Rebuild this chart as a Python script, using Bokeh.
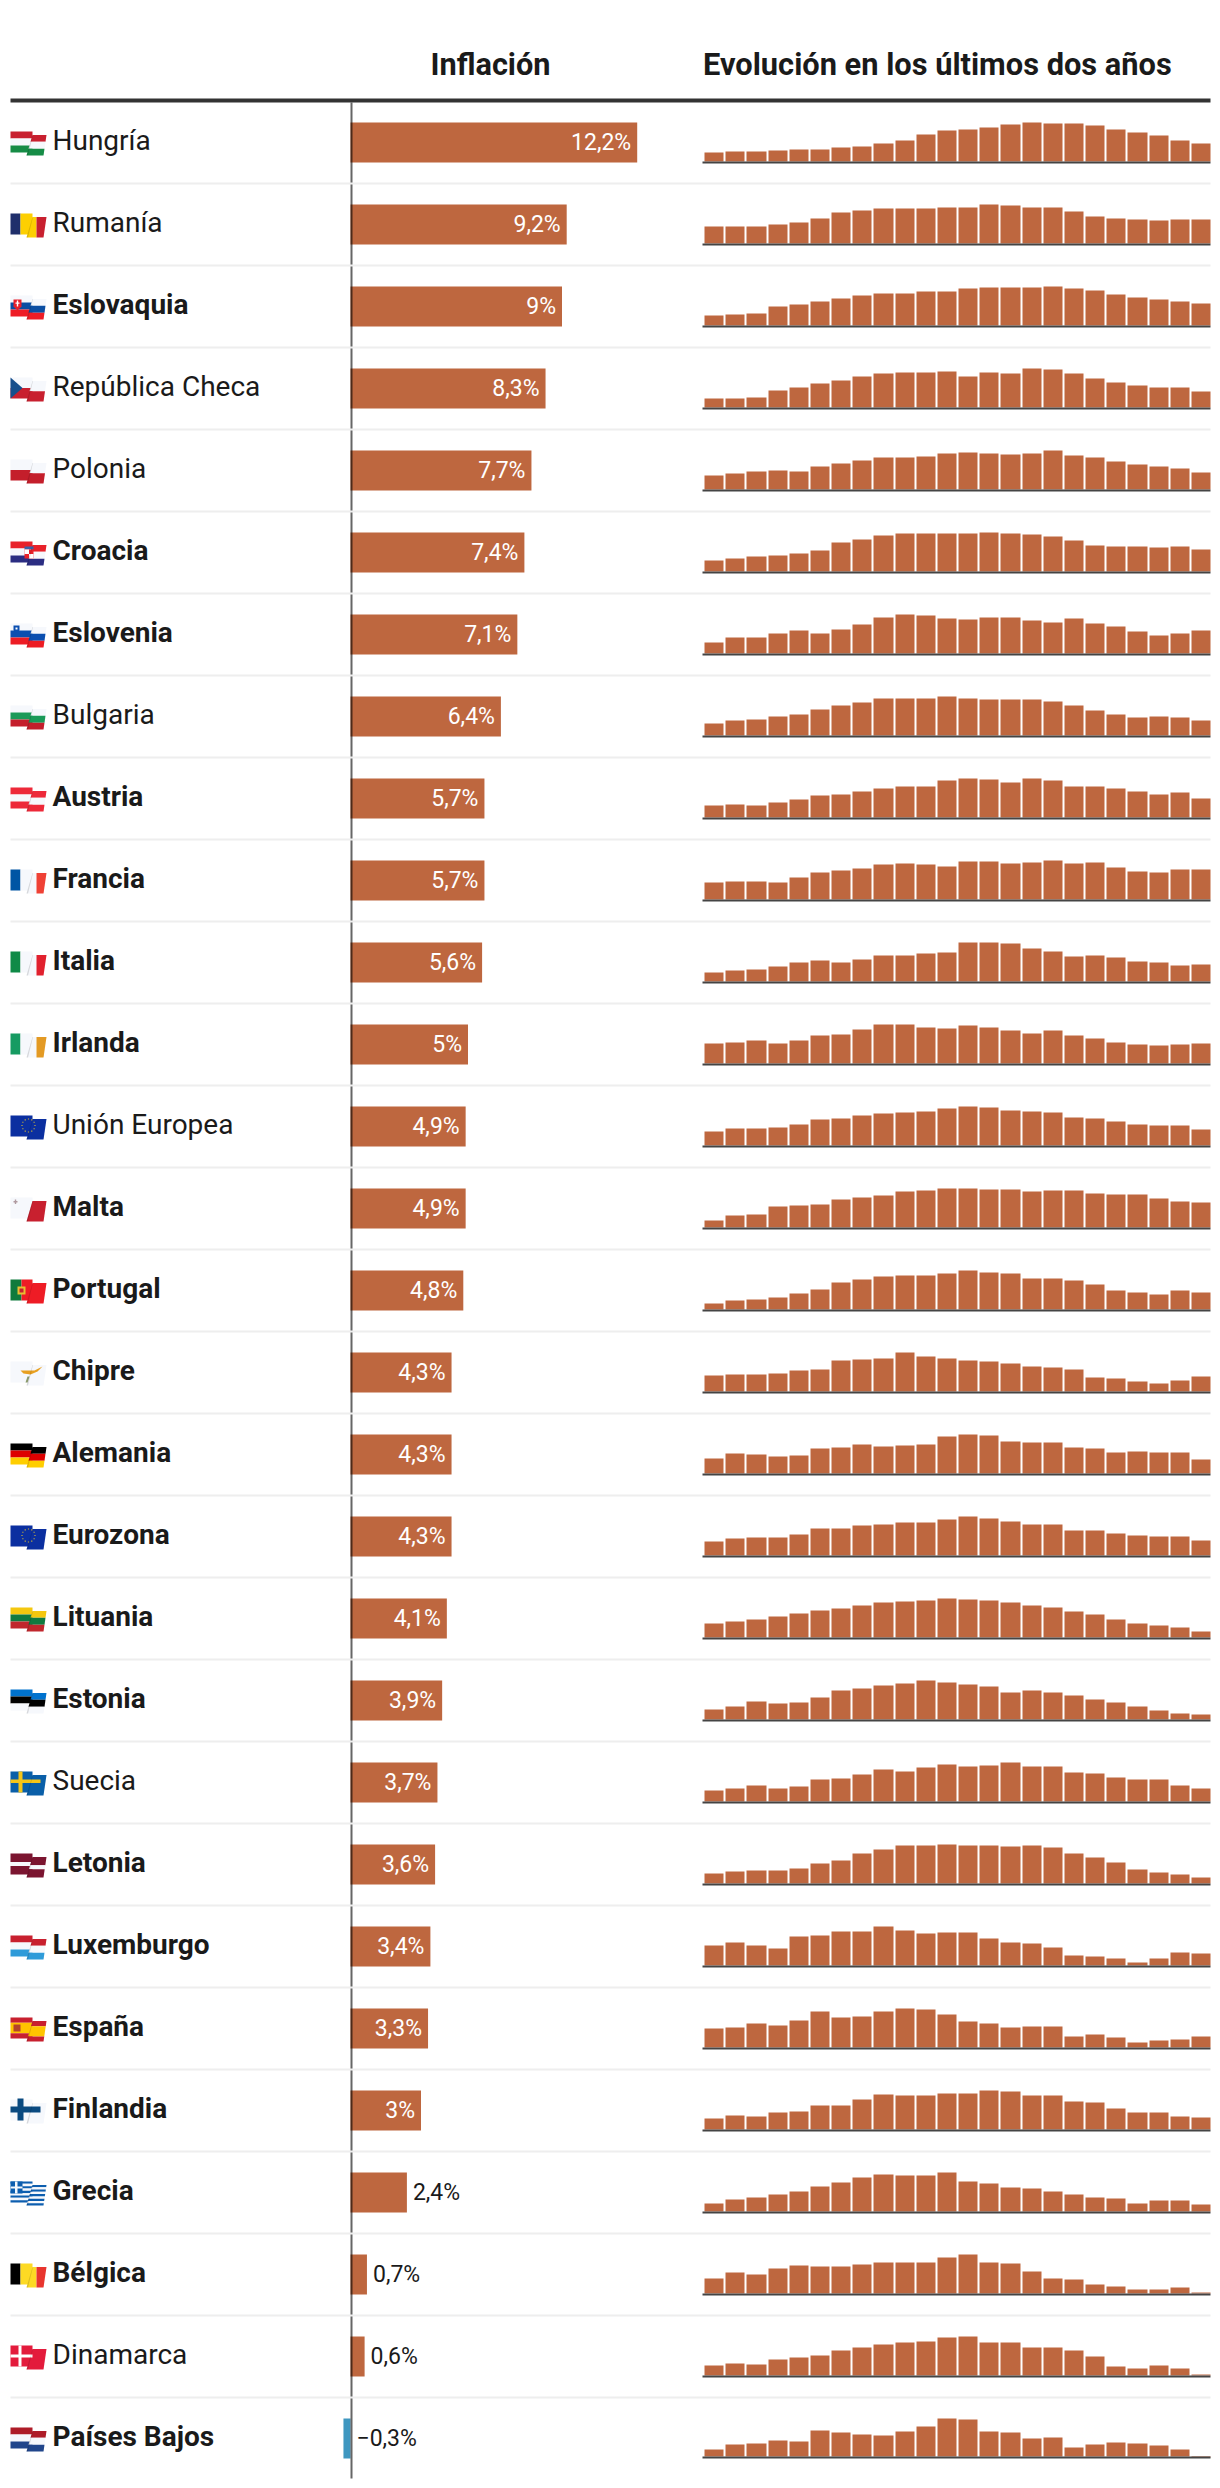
from bokeh.plotting import figure
from bokeh.models import Range1d, ColumnDataSource
from bokeh.embed import file_html
from bokeh.resources import INLINE
from bokeh.core.properties import value
import math

countries = ["Hungría","Rumanía","Eslovaquia","República Checa","Polonia","Croacia","Eslovenia","Bulgaria",
             "Austria","Francia","Italia","Irlanda","Unión Europea","Malta","Portugal","Chipre","Alemania",
             "Eurozona","Lituania","Estonia","Suecia","Letonia","Luxemburgo","España","Finlandia","Grecia",
             "Bélgica","Dinamarca","Países Bajos"]
inflation = [12.2,9.2,9,8.3,7.7,7.4,7.1,6.4,5.7,5.7,5.6,5,4.9,4.9,4.8,4.3,4.3,4.3,4.1,3.9,3.7,3.6,3.4,3.3,3,2.4,0.7,0.6,-0.3]
labels = ["12,2%","9,2%","9%","8,3%","7,7%","7,4%","7,1%","6,4%","5,7%","5,7%","5,6%","5%","4,9%","4,9%","4,8%",
          "4,3%","4,3%","4,3%","4,1%","3,9%","3,7%","3,6%","3,4%","3,3%","3%","2,4%","0,7%","0,6%","−0,3%"]
regular = {"Hungría","Rumanía","República Checa","Polonia","Bulgaria","Unión Europea","Suecia","Dinamarca"}

# two-year evolution, read in relative levels (each row scaled to its own peak)
hungria   = [9,10,10,11,12,12,14,15,18,21,27,31,32,34,37,39,38,38,36,32,29,26,21,18]
rumania   = [17,17,17,19,21,25,31,33,35,35,35,36,36,39,38,36,36,32,27,25,24,23,24,24]
eslovaquia= [10,11,12,19,21,24,27,30,32,32,34,34,37,38,38,38,39,37,35,31,28,26,24,22]
chequia   = [9,9,10,17,20,24,27,31,34,35,35,36,31,35,34,39,38,34,29,25,22,20,20,16]
polonia   = [14,16,18,19,18,23,26,29,32,32,33,36,37,36,35,36,39,34,32,28,25,23,21,17]
croacia   = [11,13,15,16,18,21,29,32,36,38,38,38,38,39,38,37,35,31,26,25,25,24,25,22]
eslovenia = [11,16,16,20,23,20,24,29,36,39,38,35,34,36,36,33,31,35,30,27,22,18,20,23]
bulgaria  = [12,15,16,19,21,26,30,33,37,37,37,39,37,36,36,36,34,30,25,21,18,19,18,15]
austria   = [12,13,12,15,18,22,23,26,29,31,31,37,39,38,35,39,37,31,31,29,26,23,25,19]
francia   = [17,18,18,17,22,27,29,31,35,36,35,33,38,38,36,37,39,36,37,32,28,27,30,30]
italia    = [9,11,12,15,19,21,19,22,26,26,28,29,39,39,38,33,30,25,26,24,20,19,16,17]
irlanda   = [20,21,23,20,23,28,29,34,39,39,36,35,38,36,33,30,33,28,25,21,19,18,19,20]
ue        = [14,17,17,18,21,26,27,30,32,33,34,37,39,38,35,34,33,28,27,24,21,20,20,16]
malta     = [7,12,13,21,22,23,28,30,32,36,37,39,39,38,38,36,37,37,34,33,33,29,26,25]
portugal  = [6,9,10,12,16,20,27,30,33,34,34,36,39,37,36,31,31,29,25,19,17,15,19,17]
chipre    = [16,17,17,18,21,22,31,32,33,39,35,33,31,30,28,25,24,22,14,13,10,8,11,15]
alemania  = [15,20,19,17,18,25,26,29,27,28,29,37,39,38,32,31,31,26,25,21,22,21,21,14]
eurozona  = [14,17,18,18,21,27,27,30,31,33,33,36,39,37,34,31,31,25,25,22,20,19,19,15]
lituania  = [14,16,18,21,24,27,29,32,35,36,37,39,38,37,35,32,30,26,23,18,14,12,10,6]
estonia   = [10,13,18,16,17,22,29,31,34,36,39,37,35,33,27,29,27,24,20,17,13,9,6,5]
suecia    = [11,13,16,13,15,22,23,27,32,30,34,37,35,36,39,35,35,29,28,24,22,22,16,13]
letonia   = [10,12,13,13,15,20,23,30,34,38,38,39,38,38,37,38,36,30,26,21,14,11,9,6]
luxemburgo= [20,23,20,17,29,30,34,34,39,35,32,33,33,27,23,22,18,10,9,7,3,7,13,12]
espana    = [19,20,24,22,27,36,30,31,36,39,38,33,26,24,20,21,21,11,13,10,5,7,8,11]
finlandia = [11,14,13,17,18,24,24,30,35,34,34,36,36,39,38,34,34,28,27,21,17,17,13,12]
grecia    = [8,12,14,17,20,25,29,34,37,36,36,39,30,28,24,23,20,17,14,13,8,11,11,7]
belgica   = [15,21,19,25,28,27,27,29,31,31,31,36,39,31,30,22,15,14,9,7,4,4,6,1]
dinamarca = [10,12,11,16,18,20,25,28,31,33,34,38,39,33,33,28,28,25,19,9,7,10,7,1]
paises_bajos = [7,12,13,16,15,26,24,22,21,25,30,38,37,25,24,18,19,9,12,14,13,11,7,-1]
evolution = [hungria,rumania,eslovaquia,chequia,polonia,croacia,eslovenia,bulgaria,austria,francia,italia,irlanda,
             ue,malta,portugal,chipre,alemania,eurozona,lituania,estonia,suecia,letonia,luxemburgo,espana,finlandia,
             grecia,belgica,dinamarca,paises_bajos]

BAR = "#BE673F"; NEG = "#3F97C0"; INK = "#1a1a1a"; WHITE = "#f6f8fc"
FONT = value("Roboto")
STEP = 82
centre = lambda i: 142 + STEP * i

# coordinates below are page pixels; the frame starts at the page's corner
W, H = 1214, 2480
p = figure(width=W, height=H, x_range=Range1d(0, W), y_range=Range1d(H, 0),
           toolbar_location=None, output_backend="svg", min_border=0,
           outline_line_color=None, background_fill_color="white", border_fill_color="white")
p.xaxis.visible = False
p.yaxis.visible = False
p.grid.visible = False

# Scale for the inflation bars: 0 sits at x=350, 23.5 px per point
ZERO, PX = 350, 23.5
p.extra_x_ranges["infl"] = Range1d((0 - ZERO) / PX, (W - ZERO) / PX)

# Header
p.text(x=[490], y=[63.5], text=["Inflación"], text_font=FONT, text_font_style="bold", text_font_size="30.7px",
       text_align="center", text_baseline="middle", text_color=INK)
p.text(x=[702.5], y=[63.5], text=["Evolución en los últimos dos años"], text_font=FONT, text_font_style="bold",
       text_font_size="30.8px", text_align="left", text_baseline="middle", text_color=INK)

# Inflation bars
src = ColumnDataSource(dict(
    left=[min(v, 0) for v in inflation], right=[max(v, 0) for v in inflation],
    top=[centre(i) - 20 for i in range(len(inflation))],
    bottom=[centre(i) + 20 for i in range(len(inflation))],
    color=[BAR if v >= 0 else NEG for v in inflation]))
p.quad(left="left", right="right", top="top", bottom="bottom", fill_color="color", line_color=None,
       x_range_name="infl", source=src)

# Evolution bars, each row on its own scale; zero stays 1 px higher if the row goes below zero
BAND = (1210 - 702) / 24
for i, levels in enumerate(evolution):
    top_y = centre(i) - 20
    zero = top_y + max(levels)
    name = f"r{i}"
    p.extra_y_ranges[name] = Range1d(zero - H, zero)
    lefts = [round(704.1 + BAND * k) for k in range(len(levels))]
    rights = [round(704.1 + 19.2 + BAND * k) for k in range(len(levels))]
    p.quad(left=lefts, right=rights, bottom=[0] * len(levels), top=levels, fill_color=BAR, line_color=None,
           y_range_name=name)
    p.quad(left=[702], right=[1210], top=[zero], bottom=[zero + 2], fill_color="#444444", line_color=None)

# Zero axis, then separators over it
p.segment(x0=[351], x1=[351], y0=[102], y1=[2478], line_color="black", line_alpha=0.6, line_width=2)
n = len(countries)
p.quad(left=[10] * (n - 1), right=[1210] * (n - 1), top=[centre(i) + 40 for i in range(n - 1)],
       bottom=[centre(i) + 42 for i in range(n - 1)], fill_color="#eeeeee", line_color=None)
p.quad(left=[10], right=[1210], top=[98], bottom=[102], fill_color="#333333", line_color=None)

# Country names
for bold in (False, True):
    idx = [i for i, c in enumerate(countries) if (c not in regular) == bold]
    p.text(x=[52] * len(idx), y=[centre(i) - 1.8 for i in idx], text=[countries[i] for i in idx],
           text_font=FONT, text_font_style="bold" if bold else "normal", text_font_size="28px",
           text_baseline="middle", text_align="left", text_color=INK)

# Value labels
inside = [i for i, v in enumerate(inflation) if v >= 3]
outside = [i for i, v in enumerate(inflation) if 0 <= v < 3]
neg = [i for i, v in enumerate(inflation) if v < 0]
common = dict(text_baseline="middle", text_font=FONT, text_font_size="23px", x_range_name="infl")
p.text(x=[inflation[i] for i in inside], y=[centre(i) + 0.3 for i in inside], text=[labels[i] for i in inside],
       x_offset=-6, text_align="right", text_color="white", **common)
p.text(x=[inflation[i] for i in outside], y=[centre(i) + 0.3 for i in outside], text=[labels[i] for i in outside],
       x_offset=6, text_align="left", text_color=INK, **common)
p.text(x=[0 for i in neg], y=[centre(i) + 0.3 for i in neg], text=[labels[i] for i in neg],
       x_offset=6, text_align="left", text_color=INK, **common)

# ---- flags: two folded panels ----
L = [(0, 0), (22, 0), (22, 21), (0, 21)]
R = [(22, 3.5), (36, 3.5), (33, 24), (16, 24)]

def clip(poly, axis, lim, keep_less):
    out = []
    for a, b in zip(poly, poly[1:] + poly[:1]):
        ina = (a[axis] <= lim) if keep_less else (a[axis] >= lim)
        inb = (b[axis] <= lim) if keep_less else (b[axis] >= lim)
        if ina:
            out.append(a)
        if ina != inb:
            t = (lim - a[axis]) / (b[axis] - a[axis])
            out.append((a[0] + t * (b[0] - a[0]), a[1] + t * (b[1] - a[1])))
    return out

def hstripes(colors, stops=None):
    stops = stops or [k / len(colors) for k in range(len(colors) + 1)]
    parts = []
    for panel, y0, h in ((L, 0, 21), (R, 3.5, 20.5)):
        for c, a, b in zip(colors, stops, stops[1:]):
            q = clip(clip(panel, 1, y0 + a * h, False), 1, y0 + b * h, True)
            parts.append((c, q))
    return parts

def vstripes(colors, stops):
    parts = []
    for panel in (L, R):
        for c, a, b in zip(colors, stops, stops[1:]):
            q = clip(clip(panel, 0, a, False), 0, b, True)
            if q:
                parts.append((c, q))
    return parts

def box(c, x0, x1, y0, y1):
    return (c, [(x0, y0), (x1, y0), (x1, y1), (x0, y1)])

def stars(cx, cy, r):
    out = []
    for k in range(12):
        a = 2 * math.pi * k / 12
        x, y = cx + r * math.cos(a), cy + r * math.sin(a)
        out.append(box("#c9b03a", x - .6, x + .6, y - .6, y + .6))
    return out

RED = "#c8202f"
V3 = [0, 10, 26, 36]
EU = hstripes(["#0b2fa0"]) + stars(18, 10, 6.5)
flags = {
 "Hungría": hstripes([RED, WHITE, "#168c46"]),
 "Rumanía": vstripes(["#202f6b", "#fdcf02", RED], V3),
 "Eslovaquia": hstripes([WHITE, "#0b4ea2", "#ee1c25"]) + [("#e8202a", [(3,4),(11,4),(11,11),(7,15),(3,11)]), box("#ffffff", 6.3, 7.7, 5, 11), box("#ffffff", 5, 9, 7, 8.3)],
 "República Checa": hstripes([WHITE, RED]) + [("#174f8c", [(0, 0), (12, 10.5), (0, 21)])],
 "Polonia": hstripes([WHITE, "#c41e2b"]),
 "Croacia": hstripes(["#e8212a", WHITE, "#2b2d82"]) + [box("#3a63a8", 14, 23, 5, 8), box("#e8212a", 14, 23, 8, 17), box("#ffffff", 14, 18.5, 8, 12.5), box("#ffffff", 18.5, 23, 12.5, 17)],
 "Eslovenia": hstripes([WHITE, "#0b4fb0", "#ed1c24"]) + [("#0b4fb0", [(3,2),(9,2),(9,7),(6,9),(3,7)]), box("#ffffff", 5, 7, 4, 6)],
 "Bulgaria": hstripes([WHITE, "#1a9a58", "#c41e2b"]),
 "Austria": hstripes(["#ed2939", WHITE, "#ed2939"]),
 "Francia": vstripes(["#0055a4", WHITE, "#ef4135"], V3),
 "Italia": vstripes(["#0f8a47", WHITE, "#e1212e"], V3),
 "Irlanda": vstripes(["#169b62", WHITE, "#e39a24"], V3),
 "Unión Europea": EU,
 "Malta": [("#f6f8fc", L), ("#c8202f", R), box("#b09aa0", 3, 7, 3.5, 5), box("#b09aa0", 4.3, 5.7, 2, 6.5)],
 "Portugal": vstripes(["#0f7a3c", "#ee1c25"], [0, 11, 36]) + [box("#e8c030", 7, 15, 7, 15), box("#c8202f", 9, 13, 9, 13)],
 "Chipre": hstripes([WHITE]) + [("#e8a020", [(10, 9), (24, 9), (32, 5), (27, 10), (20, 13), (13, 12)]), ("#8a9a6a", [(17, 15), (19, 15), (17, 21), (15, 21)])],
 "Alemania": hstripes(["#000000", "#dd0000", "#ffce00"]),
 "Eurozona": EU,
 "Lituania": hstripes(["#f4c70f", "#107a40", "#c1272d"]),
 "Estonia": hstripes(["#0072ce", "#000000", WHITE]),
 "Suecia": hstripes(["#0a5fa8"]) + [box("#f5c518", 8, 12, 0, 21), box("#f5c518", 0, 30, 8, 11.5)],
 "Letonia": hstripes(["#7b1530", WHITE, "#7b1530"], [0, .4, .6, 1]),
 "Luxemburgo": hstripes([RED, WHITE, "#2f9bd9"]),
 "España": hstripes([RED, "#ffc400", RED], [0, .25, .75, 1]) + [box("#b5432a", 3, 10, 7, 14)],
 "Finlandia": hstripes([WHITE]) + [box("#0a4a80", 7, 13, -1, 21), box("#0a4a80", 0, 30, 7, 13)],
 "Grecia": hstripes(["#0d5eaf", WHITE] * 4 + ["#0d5eaf"]) + [box("#0d5eaf", 0, 12, 0, 12), box(WHITE, 4.5, 7, 0, 12), box(WHITE, 0, 12, 5, 7)],
 "Bélgica": vstripes(["#000000", "#fdda24", "#e8352e"], V3),
 "Dinamarca": hstripes(["#e31b3c"]) + [box("#ffffff", 8, 11, 0, 21), box("#ffffff", 0, 22, 9, 12)],
 "Países Bajos": hstripes(["#ae1c28", WHITE, "#21468b"]),
}
xs, ys, cs, al = [], [], [], []
for i, c in enumerate(countries):
    x0, y0 = 10, centre(i) - 11
    for color, poly in flags[c]:
        xs.append([x0 + a for a, _ in poly]); ys.append([y0 + b for _, b in poly]); cs.append(color); al.append(1)
    xs.append([x0 + 22, x0 + 16, x0 + 17.5, x0 + 22.5]); ys.append([y0 + 3.5, y0 + 24, y0 + 24, y0 + 3.5]); cs.append("#000000"); al.append(.13)
p.patches(xs, ys, fill_color=cs, fill_alpha=al, line_color=None)

open("out.html", "w").write(file_html(p, INLINE))
